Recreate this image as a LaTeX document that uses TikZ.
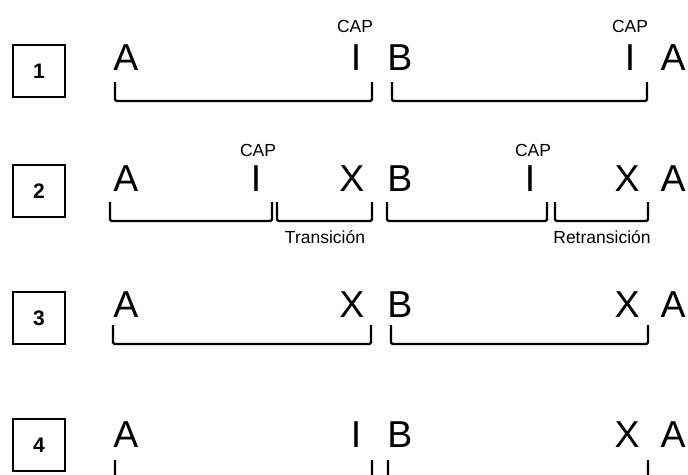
\documentclass[tikz,border=0pt]{standalone}
\usepackage{fontspec}
\setmainfont{Liberation Sans}
\begin{document}
\begin{tikzpicture}[x=1pt,y=-1pt,
  big/.style={font=\fontsize{37.5}{40}\selectfont, inner sep=0pt, anchor=base},
  small/.style={font=\fontsize{17.5}{20}\selectfont, inner sep=0pt, anchor=base},
  numbox/.style={draw, line width=1.3pt, minimum width=52pt, minimum height=52pt, inner sep=0pt, font=\bfseries\fontsize{21}{23}\selectfont},
  brk/.style={line width=2.2pt, rounded corners=1.5pt}]
\clip (0,0) rectangle (688,474);
\fill[white] (0,0) rectangle (688,474);
% boxes
\node[numbox] (n1) at (39,71) {1};
\node[numbox] (n2) at (39,191) {2};
\node[numbox] (n3) at (39,318) {3};
\node[numbox] (n4) at (39,445) {4};
% row 1
\node[big] (r1a) at (126,70) {A};
\node[big] (r1i) at (356,70) {I};
\node[big] (r1b) at (400,70) {B};
\node[big] (r1j) at (630,70) {I};
\node[big] (r1c) at (673,70) {A};
\node[small] (r1cap1) at (355,32) {CAP};
\node[small] (r1cap2) at (630,32) {CAP};
\draw[brk] (115,82) -- (115,101) -- (372,101) -- (372,82);
\draw[brk] (392,82) -- (392,101) -- (647,101) -- (647,82);
% row 2
\node[big] (r2a) at (126,191) {A};
\node[big] (r2i) at (256,191) {I};
\node[big] (r2x) at (352,191) {X};
\node[big] (r2b) at (400,191) {B};
\node[big] (r2j) at (530,191) {I};
\node[big] (r2y) at (627,191) {X};
\node[big] (r2c) at (673,191) {A};
\node[small] (r2cap1) at (258,156) {CAP};
\node[small] (r2cap2) at (533,156) {CAP};
\draw[brk] (110,202) -- (110,221) -- (272,221) -- (272,202);
\draw[brk] (277,202) -- (277,221) -- (372,221) -- (372,202);
\draw[brk] (387,202) -- (387,221) -- (547,221) -- (547,202);
\draw[brk] (555,202) -- (555,221) -- (648,221) -- (648,202);
\node[small] (trans) at (325,243) {Transición};
\node[small] (retrans) at (602,243) {Retransición};
% row 3
\node[big] (r3a) at (126,317) {A};
\node[big] (r3x) at (352,317) {X};
\node[big] (r3b) at (400,317) {B};
\node[big] (r3y) at (627,317) {X};
\node[big] (r3c) at (673,317) {A};
\draw[brk] (113,325) -- (113,344) -- (371,344) -- (371,325);
\draw[brk] (391,325) -- (391,344) -- (648,344) -- (648,325);
% row 4
\node[big] (r4a) at (126,447) {A};
\node[big] (r4i) at (356,447) {I};
\node[big] (r4b) at (400,447) {B};
\node[big] (r4y) at (627,447) {X};
\node[big] (r4c) at (673,447) {A};
\draw[brk] (115,460) -- (115,479) -- (372,479) -- (372,460);
\draw[brk] (388,460) -- (388,479) -- (648,479) -- (648,460);
\end{tikzpicture}
\end{document}
